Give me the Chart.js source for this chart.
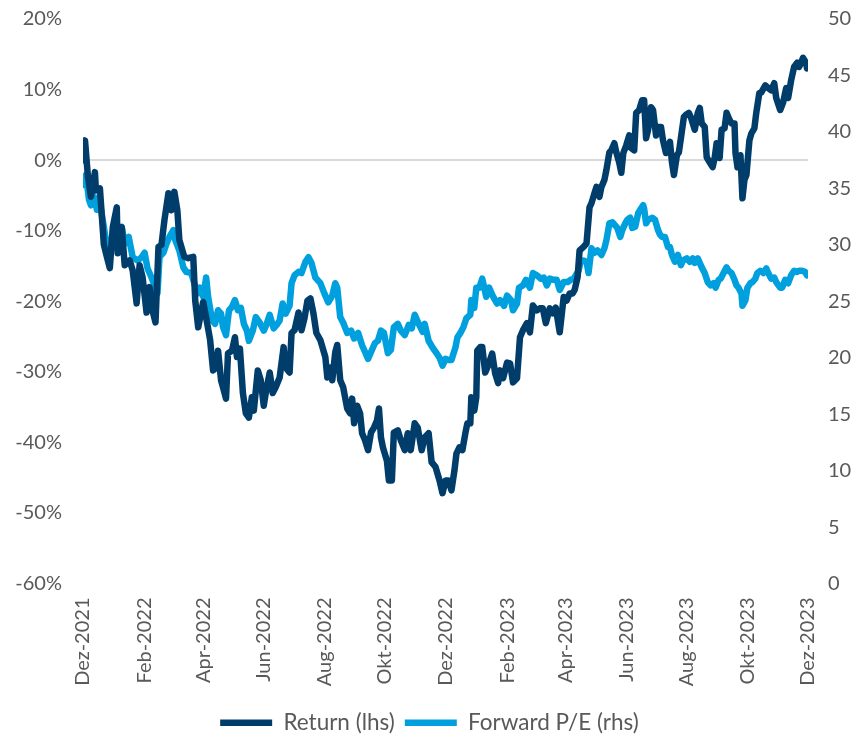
<!DOCTYPE html>
<html>
<head>
<meta charset="utf-8">
<script src="https://cdn.jsdelivr.net/npm/chart.js@4/dist/chart.umd.min.js"></script>
<style>
  html, body { margin: 0; padding: 0; background: #fff; }
  #wrap { width: 859px; height: 744px; }
</style>
</head>
<body>
<div id="wrap"><canvas id="chart" width="859" height="744"></canvas></div>
<script>
// days since 1 Dec 2021 for the month ticks, and their labels
const tickDays = [0, 62, 121, 182, 243, 304, 365, 427, 486, 547, 608, 669, 730];
const tickLabels = ['Dez-2021', 'Feb-2022', 'Apr-2022', 'Jun-2022', 'Aug-2022', 'Okt-2022', 'Dez-2022',
  'Feb-2023', 'Apr-2023', 'Jun-2023', 'Aug-2023', 'Okt-2023', 'Dez-2023'];

// Return (lhs), in %
const returnDays = [
  0, 2, 5, 8, 12, 13, 17, 19, 21, 24,
  27, 30, 34, 35, 39, 42, 47, 50, 54, 57,
  60, 64, 67, 70, 73, 76, 79, 82, 86, 89,
  92, 95, 97, 102, 106, 111, 113, 116, 121, 125,
  128, 131, 134, 136, 139, 141, 144, 146, 150, 153,
  155, 158, 161, 164, 167, 170, 172, 176, 179, 182,
  184, 188, 191, 194, 198, 202, 204, 208, 210, 213,
  217, 220, 223, 226, 229, 232, 235, 239, 244, 246,
  249, 251, 254, 256, 259, 262, 266, 269, 271, 273,
  276, 279, 281, 284, 287, 290, 293, 296, 298, 300,
  302, 306, 308, 311, 313, 317, 320, 324, 327, 330,
  334, 337, 341, 344, 348, 351, 355, 359, 362, 365,
  368, 371, 374, 376, 379, 382, 385, 387, 390, 391,
  394, 396, 397, 400, 402, 405, 408, 412, 415, 418,
  420, 423, 427, 430, 433, 437, 440, 443, 447, 450,
  453, 457, 460, 463, 466, 470, 473, 476, 480, 484,
  487, 490, 493, 495, 498, 500, 504, 507, 510, 512,
  515, 517, 520, 522, 525, 527, 530, 532, 535, 537,
  540, 542, 544, 547, 550, 552, 555, 557, 560, 563,
  565, 567, 569, 572, 574, 577, 579, 582, 584, 587,
  591, 593, 595, 598, 600, 602, 605, 607, 610, 612,
  616, 619, 621, 623, 626, 628, 631, 634, 636, 638,
  641, 643, 646, 648, 651, 653, 656, 657, 659, 662,
  664, 666, 668, 671, 673, 676, 678, 681, 683, 687,
  690, 693, 696, 698, 702, 705, 708, 710, 713, 716,
  719, 721, 723, 725, 728, 729
];
const returnValues = [
  0.0, 2.8, -2.4, -5.2, -1.7, -4.3, -4.0, -8.0, -12.0, -13.7,
  -15.3, -9.5, -6.7, -13.2, -9.5, -14.9, -14.2, -15.6, -20.3, -14.9,
  -16.6, -21.6, -18.0, -21.3, -23.0, -12.3, -12.0, -8.5, -4.7, -7.1,
  -4.5, -7.1, -11.3, -13.7, -13.9, -13.7, -19.9, -23.7, -20.1, -23.1,
  -25.5, -29.8, -29.4, -27.0, -31.2, -32.2, -33.8, -27.4, -27.0, -25.1,
  -27.9, -26.7, -33.0, -35.9, -36.5, -33.6, -35.5, -29.8, -31.2, -34.8,
  -33.0, -30.1, -33.0, -32.2, -30.8, -26.5, -29.4, -30.1, -24.5, -24.1,
  -21.6, -24.1, -22.4, -19.9, -19.6, -21.7, -24.5, -25.5, -27.9, -30.8,
  -29.4, -31.2, -27.2, -26.2, -31.2, -32.2, -35.2, -35.9, -33.8, -37.3,
  -34.8, -35.9, -38.7, -39.7, -41.1, -38.6, -37.9, -36.9, -35.2, -39.3,
  -40.7, -42.6, -45.4, -45.4, -38.6, -38.3, -39.7, -41.1, -38.7, -41.1,
  -37.3, -37.9, -41.1, -39.3, -38.7, -42.8, -43.5, -45.4, -47.2, -45.4,
  -45.4, -46.8, -44.0, -41.6, -40.7, -41.1, -38.7, -37.3, -37.3, -33.6,
  -35.5, -33.6, -27.0, -26.5, -26.5, -30.1, -29.1, -27.4, -30.2, -31.6,
  -29.8, -30.9, -28.7, -28.8, -31.5, -30.9, -25.1, -24.1, -23.1, -24.4,
  -20.6, -21.3, -21.0, -21.0, -23.1, -21.0, -21.7, -20.9, -24.4, -19.4,
  -19.9, -18.9, -18.9, -18.4, -16.6, -12.8, -12.3, -11.8, -6.7, -6.1,
  -4.7, -3.8, -5.2, -3.8, -2.8, -1.4, 1.1, 1.4, 2.4, 1.1,
  -0.4, -1.8, 1.0, 2.1, 3.5, 1.7, 1.4, 6.7, 7.1, 8.5,
  8.5, 3.1, 4.3, 7.5, 7.1, 3.5, 4.7, 4.7, 2.8, 1.0,
  2.6, -0.3, -2.1, 0.7, 1.1, 3.1, 6.1, 6.4, 6.7, 6.1,
  4.3, 6.7, 7.4, 5.2, 4.7, 0.4, -0.3, -1.0, 0.3, 2.4,
  0.3, 4.3, 4.5, 6.7, 5.7, 5.2, 5.2, 1.0, -1.0, 0.7,
  -5.4, -2.8, -2.1, 2.8, 3.8, 4.5, 6.8, 9.5, 9.6, 10.6,
  10.2, 9.9, 10.9, 8.8, 7.1, 8.2, 10.2, 8.8, 11.3, 13.2,
  13.8, 13.2, 13.8, 14.5, 13.8, 13.0
];

// Forward P/E (rhs)
const peDays = [
  0, 3, 6, 8, 12, 14, 18, 21, 23, 27,
  30, 34, 36, 39, 42, 46, 50, 55, 59, 62,
  65, 69, 72, 75, 77, 81, 84, 87, 91, 93,
  97, 101, 104, 109, 112, 116, 118, 121, 124, 126,
  130, 133, 136, 139, 141, 144, 147, 150, 153, 156,
  159, 162, 165, 167, 171, 174, 178, 182, 185, 188,
  192, 195, 198, 201, 204, 208, 210, 213, 217, 220,
  224, 227, 230, 234, 239, 243, 247, 251, 254, 256,
  259, 262, 266, 270, 273, 277, 281, 284, 287, 291,
  294, 297, 300, 303, 307, 310, 313, 317, 320, 324,
  328, 331, 334, 338, 342, 344, 348, 352, 356, 359,
  362, 365, 368, 371, 375, 377, 380, 383, 386, 390,
  391, 394, 396, 399, 402, 406, 409, 413, 417, 420,
  424, 427, 431, 433, 437, 439, 443, 446, 450, 453,
  457, 461, 464, 467, 470, 474, 477, 480, 484, 488,
  491, 494, 499, 501, 504, 507, 509, 512, 515, 518,
  522, 525, 527, 530, 533, 536, 538, 541, 543, 546,
  548, 551, 553, 556, 559, 561, 564, 565, 567, 569,
  573, 576, 579, 581, 583, 586, 589, 591, 593, 596,
  599, 602, 604, 608, 611, 614, 616, 619, 623, 626,
  629, 632, 635, 637, 640, 642, 645, 648, 650, 653,
  656, 658, 660, 663, 664, 667, 669, 672, 674, 677,
  679, 682, 685, 688, 690, 693, 696, 698, 702, 704,
  707, 710, 713, 716, 719, 721, 724, 727, 729
];
const peValues = [
  35.3, 36.2, 34.0, 33.5, 34.2, 33.1, 33.2, 31.6, 30.4, 29.8,
  31.0, 32.0, 30.4, 31.6, 30.1, 30.7, 28.9, 28.6, 28.9, 29.3,
  27.9, 27.1, 26.4, 25.7, 28.9, 29.3, 30.1, 30.7, 31.3, 30.4,
  29.5, 28.0, 27.6, 27.5, 26.6, 25.7, 26.2, 25.4, 27.1, 25.4,
  23.3, 23.0, 24.2, 23.9, 22.7, 22.0, 24.2, 24.5, 25.1, 24.2,
  24.4, 23.0, 22.4, 21.5, 22.4, 23.6, 23.1, 22.4, 23.0, 23.8,
  22.6, 22.9, 23.3, 24.8, 23.9, 24.6, 26.6, 27.3, 27.6, 27.5,
  28.5, 28.9, 28.4, 27.1, 26.6, 25.7, 24.9, 25.5, 26.6, 26.2,
  23.6, 23.1, 22.2, 22.4, 21.7, 22.2, 21.1, 20.5, 19.9, 20.7,
  21.3, 21.5, 22.4, 22.2, 20.4, 20.7, 22.7, 23.0, 22.4, 22.0,
  22.9, 22.6, 23.8, 23.0, 22.3, 23.0, 21.5, 20.9, 20.4, 20.0,
  19.3, 19.9, 19.8, 19.8, 20.9, 21.8, 22.2, 22.7, 23.5, 23.8,
  25.1, 24.4, 26.2, 26.2, 27.0, 25.4, 26.2, 25.4, 24.8, 25.1,
  24.6, 25.5, 25.1, 24.2, 24.8, 26.2, 26.4, 26.9, 26.2, 27.5,
  27.3, 27.0, 27.1, 26.4, 27.0, 26.9, 26.9, 26.0, 26.7, 26.7,
  26.9, 27.0, 27.7, 28.5, 28.6, 28.5, 27.5, 29.7, 29.3, 29.5,
  29.1, 29.7, 30.4, 31.9, 32.0, 31.7, 31.5, 30.7, 31.3, 31.9,
  32.2, 32.4, 31.5, 31.6, 32.8, 33.1, 33.5, 33.2, 31.9, 32.2,
  32.4, 32.2, 31.3, 30.9, 30.7, 30.7, 29.8, 29.8, 29.1, 28.5,
  29.1, 28.2, 28.6, 28.8, 28.5, 28.8, 28.4, 28.8, 28.0, 27.5,
  26.7, 26.4, 26.6, 26.2, 26.9, 27.0, 27.5, 28.0, 27.7, 27.5,
  26.9, 26.4, 26.2, 25.7, 24.6, 25.1, 26.2, 26.6, 26.7, 27.0,
  27.5, 27.7, 27.5, 27.9, 27.5, 27.0, 27.1, 26.7, 26.2, 26.2,
  26.9, 26.6, 27.3, 27.7, 27.6, 27.7, 27.7, 27.6, 27.3
];

const darkBlue = '#003d6b';
const lightBlue = '#00a0de';
const textGrey = '#595959';

function toPoints(days, values) {
  return days.map((d, i) => ({ x: d, y: values[i] }));
}

// fixed axis widths, no extra top/bottom padding from tick labels
function fixWidth(w) {
  return scale => {
    scale.width = w;
    scale.paddingTop = 0;
    scale.paddingBottom = 0;
  };
}

const ctx = document.getElementById('chart').getContext('2d');
new Chart(ctx, {
  type: 'line',
  data: {
    datasets: [
      {
        label: 'Return (lhs)',
        data: toPoints(returnDays, returnValues),
        yAxisID: 'y',
        borderColor: darkBlue,
        backgroundColor: darkBlue,
        borderWidth: 6.5,
        borderCapStyle: 'round',
        borderJoinStyle: 'round',
        pointRadius: 0,
        tension: 0
      },
      {
        label: 'Forward P/E (rhs)',
        data: toPoints(peDays, peValues),
        yAxisID: 'y1',
        borderColor: lightBlue,
        backgroundColor: lightBlue,
        borderWidth: 6.5,
        borderCapStyle: 'round',
        borderJoinStyle: 'round',
        pointRadius: 0,
        tension: 0
      }
    ]
  },
  options: {
    responsive: false,
    animation: false,
    layout: { padding: { top: 19, bottom: 0, left: 0, right: 0 } },
    plugins: {
      tooltip: { enabled: false },
      legend: {
        position: 'bottom',
        labels: {
          usePointStyle: true,
          pointStyle: 'line',
          pointStyleWidth: 52,
          color: textGrey,
          font: { family: 'Lato', size: 22.5 },
          padding: 10
        }
      }
    },
    scales: {
      x: {
        type: 'linear',
        min: 0,
        max: 730,
        grid: { display: false, drawTicks: false },
        border: { display: false },
        afterBuildTicks: scale => {
          scale.ticks = tickDays.map(v => ({ value: v }));
        },
        afterFit: scale => { scale.height = 118; },
        ticks: {
          autoSkip: false,
          minRotation: 90,
          maxRotation: 90,
          padding: 14,
          color: textGrey,
          font: { family: 'Lato', size: 20 },
          callback: (v, i) => tickLabels[i]
        }
      },
      y: {
        position: 'left',
        min: -60,
        max: 20,
        afterFit: fixWidth(83),
        grid: {
          drawTicks: false,
          lineWidth: 2,
          color: c => (c.tick && c.tick.value === 0 ? '#d9d9d9' : 'rgba(0,0,0,0)')
        },
        border: { display: false },
        ticks: {
          stepSize: 10,
          padding: 21,
          color: textGrey,
          font: { family: 'Lato', size: 20 },
          callback: v => v + '%'
        }
      },
      y1: {
        position: 'right',
        min: 0,
        max: 50,
        afterFit: fixWidth(51),
        grid: { display: false, drawTicks: false },
        border: { display: false },
        ticks: {
          stepSize: 5,
          padding: 20,
          color: textGrey,
          font: { family: 'Lato', size: 20 }
        }
      }
    }
  }
});
</script>
</body>
</html>
